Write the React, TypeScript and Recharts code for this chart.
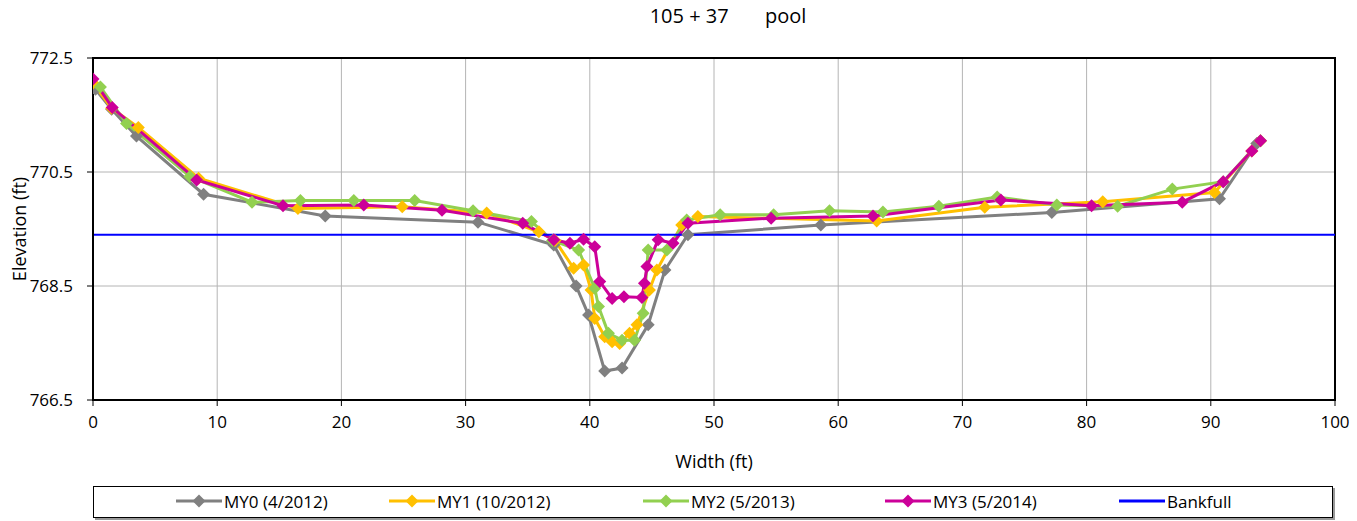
import {
  LineChart,
  Line,
  XAxis,
  YAxis,
  CartesianGrid,
  ReferenceArea,
} from 'recharts';

// station width (ft) and elevation (ft) for each survey
const my0Width = [0.2, 1.5, 3.5, 8.9, 18.7, 31.0, 37.1, 38.9, 39.9, 41.2, 42.6, 44.7, 46.05, 47.9, 58.6, 77.2, 90.7, 93.7];
const my0Elev = [771.95, 771.6, 771.13, 770.11, 769.73, 769.62, 769.22, 768.5, 767.99, 767.01, 767.06, 767.82, 768.78, 769.4, 769.57, 769.79, 770.03, 771.0];

const my1Width = [0, 1.5, 3.65, 8.5, 16.5, 24.9, 31.7, 35.9, 37.2, 38.7, 39.5, 40.1, 40.4, 41.2, 41.8, 42.4, 43.2, 43.8, 44.8, 45.4, 47.4, 48.7, 63.1, 71.8, 81.3, 90.3, 93.3, 94.0];
const my1Elev = [772.06, 771.62, 771.28, 770.39, 769.86, 769.89, 769.78, 769.45, 769.3, 768.81, 768.87, 768.43, 767.93, 767.61, 767.52, 767.49, 767.67, 767.82, 768.43, 768.78, 769.57, 769.72, 769.64, 769.88, 769.98, 770.14, 770.87, 771.05];

const my2Width = [0.6, 2.7, 7.8, 12.8, 16.7, 21.0, 25.9, 30.6, 35.3, 37.0, 39.1, 40.4, 40.7, 41.5, 42.6, 43.6, 44.3, 44.7, 46.2, 47.8, 50.5, 54.8, 59.3, 63.6, 68.1, 72.8, 77.6, 82.5, 86.9, 91.0, 94.0];
const my2Elev = [771.99, 771.35, 770.42, 769.97, 770.0, 770.0, 770.0, 769.82, 769.63, 769.3, 769.13, 768.46, 768.14, 767.67, 767.55, 767.55, 768.02, 769.13, 769.13, 769.66, 769.75, 769.75, 769.82, 769.8, 769.9, 770.06, 769.92, 769.9, 770.2, 770.33, 771.05];

const my3Width = [0, 1.55, 8.35, 15.3, 21.8, 28.1, 34.6, 37.1, 38.4, 39.5, 40.4, 40.8, 41.8, 42.75, 44.2, 44.4, 44.6, 45.5, 46.7, 47.9, 54.6, 62.8, 73.1, 80.4, 87.7, 91.0, 93.3, 94.0];
const my3Elev = [772.13, 771.63, 770.36, 769.91, 769.92, 769.83, 769.6, 769.31, 769.25, 769.32, 769.19, 768.58, 768.28, 768.31, 768.3, 768.55, 768.84, 769.31, 769.25, 769.6, 769.69, 769.73, 770.01, 769.91, 769.97, 770.33, 770.87, 771.05];

const bankfullWidth = [0, 100];
const bankfullElev = [769.4, 769.4];

const xTicks = [0, 10, 20, 30, 40, 50, 60, 70, 80, 90, 100];
const yTicks = [766.5, 768.5, 770.5, 772.5];

const zip = (xs: number[], ys: number[]) => xs.map((x, i) => ({ x, y: ys[i] }));

const series = [
  { name: 'MY0 (4/2012)', color: '#808080', data: zip(my0Width, my0Elev), marker: true },
  { name: 'MY1 (10/2012)', color: '#FFC000', data: zip(my1Width, my1Elev), marker: true },
  { name: 'MY2 (5/2013)', color: '#92D050', data: zip(my2Width, my2Elev), marker: true },
  { name: 'MY3 (5/2014)', color: '#CC0099', data: zip(my3Width, my3Elev), marker: true },
  { name: 'Bankfull', color: '#0000FF', data: zip(bankfullWidth, bankfullElev), marker: false },
];

const FONT = '"Open Sans", "Noto Sans", sans-serif';

const Diamond = (color: string) => (props: any) => {
  const { cx, cy, index } = props;
  if (cx == null || cy == null) return <g key={index} />;
  const r = 6.5;
  return (
    <path
      key={index}
      d={`M${cx},${cy - r} L${cx + r},${cy} L${cx},${cy + r} L${cx - r},${cy} Z`}
      fill={color}
      stroke="none"
    />
  );
};

const legendX = [175, 388, 642, 884, 1118];

export default function App() {
  return (
    <div style={{ position: 'absolute', left: 0, top: 0, width: 1357, height: 521, background: '#fff', fontFamily: FONT }}>
      <div
        style={{
          position: 'absolute',
          top: 2,
          left: 528,
          width: 400,
          textAlign: 'center',
          fontSize: 20,
          whiteSpace: 'pre',
          color: '#000',
        }}
      >
        {'105 + 37       pool'}
      </div>

      <LineChart
        width={1357}
        height={521}
        margin={{ top: 58, right: 22, left: 0, bottom: 51 }}
      >
        <CartesianGrid stroke="#B4B4B4" strokeWidth={1} />
        <XAxis
          type="number"
          dataKey="x"
          domain={[0, 100]}
          ticks={xTicks}
          interval={0}
          allowDataOverflow
          height={70}
          axisLine={{ stroke: '#000', strokeWidth: 2 }}
          tickLine={{ stroke: '#000' }}
          tickSize={6}
          tickMargin={10}
          tick={{ fontSize: 17, fill: '#000', fontFamily: FONT }}
          label={{ value: 'Width (ft)', position: 'insideBottom', offset: 2, style: { fontSize: 18, fill: '#000', fontFamily: FONT } }}
        />
        <YAxis
          type="number"
          dataKey="y"
          domain={[766.5, 772.5]}
          ticks={yTicks}
          interval={0}
          allowDataOverflow
          width={93}
          axisLine={{ stroke: '#000', strokeWidth: 2 }}
          tickLine={{ stroke: '#000' }}
          tickSize={6}
          tickMargin={14}
          tickFormatter={(v: number) => v.toFixed(1)}
          tick={{ fontSize: 17, fill: '#000', fontFamily: FONT }}
          label={{
            value: 'Elevation (ft)',
            angle: -90,
            position: 'insideLeft',
            offset: 20,
            style: { fontSize: 18, fill: '#000', fontFamily: FONT, textAnchor: 'middle' },
          }}
        />
        <ReferenceArea x1={0} x2={100} y1={766.5} y2={772.5} fill="none" stroke="#000" strokeWidth={2} />
        {series.map((s) => (
          <Line
            key={s.name}
            data={s.data}
            dataKey="y"
            name={s.name}
            type="linear"
            stroke={s.color}
            strokeWidth={s.marker ? 3 : 2}
            dot={s.marker ? Diamond(s.color) : false}
            activeDot={false}
            isAnimationActive={false}
          />
        ))}
      </LineChart>

      <div
        style={{
          position: 'absolute',
          left: 93,
          top: 486,
          width: 1240,
          height: 32,
          border: '1.5px solid #000',
          boxShadow: '2px 2px 0 #999',
          boxSizing: 'border-box',
        }}
      >
        {series.map((s, i) => (
          <div
            key={s.name}
            style={{
              position: 'absolute',
              left: legendX[i] - 93,
              top: 2,
              display: 'flex',
              alignItems: 'center',
              fontSize: 17,
              whiteSpace: 'nowrap',
            }}
          >
            <svg width={46} height={24}>
              <line x1={0} y1={12} x2={46} y2={12} stroke={s.color} strokeWidth={3} />
              {s.marker && <path d="M23,5.5 L29.5,12 L23,18.5 L16.5,12 Z" fill={s.color} />}
            </svg>
            <span style={{ marginLeft: 2 }}>{s.name}</span>
          </div>
        ))}
      </div>
    </div>
  );
}
